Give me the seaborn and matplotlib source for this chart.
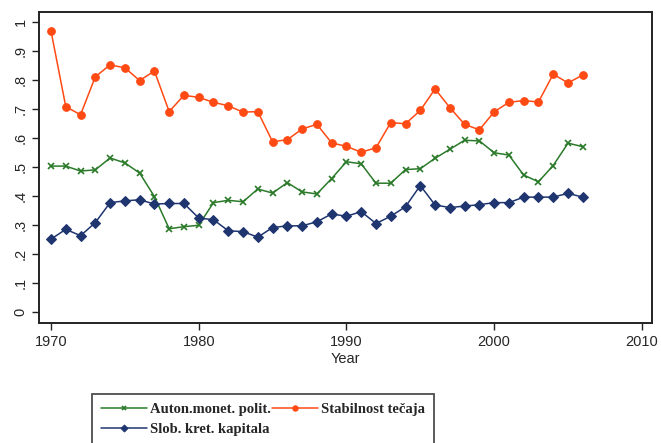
import numpy as np
import pandas as pd
import matplotlib
matplotlib.use("Agg")
import matplotlib.pyplot as plt
import seaborn as sns
from matplotlib.ticker import FuncFormatter

years = list(range(1970, 2007))

# Auton.monet. polit.
monetary = [0.504, 0.504, 0.487, 0.491, 0.532, 0.515, 0.480, 0.399, 0.288, 0.295,
            0.300, 0.378, 0.386, 0.381, 0.425, 0.411, 0.447, 0.415, 0.408, 0.461,
            0.519, 0.512, 0.445, 0.445, 0.492, 0.495, 0.531, 0.562, 0.593, 0.591,
            0.550, 0.542, 0.473, 0.450, 0.506, 0.583, 0.571]

# Stabilnost tečaja
exchange = [0.970, 0.709, 0.681, 0.812, 0.853, 0.843, 0.799, 0.832, 0.692, 0.748,
            0.741, 0.724, 0.712, 0.690, 0.692, 0.588, 0.595, 0.632, 0.648, 0.584,
            0.572, 0.552, 0.567, 0.654, 0.650, 0.696, 0.770, 0.706, 0.648, 0.629,
            0.691, 0.724, 0.730, 0.725, 0.821, 0.791, 0.818]

# Slob. kret. kapitala
capital = [0.252, 0.286, 0.264, 0.309, 0.378, 0.384, 0.388, 0.373, 0.375, 0.375,
           0.325, 0.319, 0.281, 0.278, 0.259, 0.292, 0.298, 0.298, 0.312, 0.339,
           0.331, 0.347, 0.306, 0.331, 0.364, 0.437, 0.370, 0.361, 0.366, 0.371,
           0.378, 0.378, 0.397, 0.397, 0.397, 0.410, 0.397]

df = pd.DataFrame({"Year": years, "monetary": monetary,
                   "exchange": exchange, "capital": capital})

sns.set_style("ticks")
plt.rcParams["font.family"] = ["Liberation Sans", "DejaVu Sans"]

fig = plt.figure(figsize=(6.61, 4.43), dpi=100)
ax = fig.add_axes([0.0595, 0.2716, 0.9265, 0.7004])

green = "#2a7a2a"
red = "#ff4a14"
navy = "#1f3570"

sns.lineplot(data=df, x="Year", y="monetary", ax=ax, color=green, lw=1.1,
             marker="x", markersize=5, markeredgewidth=1.2, markeredgecolor=green,
             label="Auton.monet. polit.")
sns.lineplot(data=df, x="Year", y="capital", ax=ax, color=navy, lw=1.1,
             marker="D", markersize=5, markeredgecolor=navy,
             label="Slob. kret. kapitala")
sns.lineplot(data=df, x="Year", y="exchange", ax=ax, color=red, lw=1.1,
             marker="o", markersize=5.5, markeredgecolor=red,
             label="Stabilnost tečaja")

ax.set_xlim(1969.21, 2010.67)
ax.set_ylim(-0.036, 1.034)
ax.set_xticks([1970, 1980, 1990, 2000, 2010])
ax.set_yticks(np.arange(0, 1.01, 0.1))
ax.yaxis.set_major_formatter(FuncFormatter(
    lambda v, p: "0" if abs(v) < 1e-9 else ("1" if abs(v - 1) < 1e-9 else ("%.1f" % v)[1:])))
for lab in ax.get_yticklabels():
    lab.set_rotation(90)
    lab.set_va("center")
ax.tick_params(axis="both", labelsize=10.5, length=5, width=1, color="#222222",
               direction="out")
ax.tick_params(axis="x", pad=4)
ax.set_xlabel("Year", fontsize=10.5, labelpad=2)
ax.set_ylabel("")
for sp in ax.spines.values():
    sp.set_visible(True)
    sp.set_linewidth(1.4)
    sp.set_color("#222222")

ax.legend_.remove()
h, l = ax.get_legend_handles_labels()
leg = fig.legend(h, l, ncol=2, loc="upper left", bbox_to_anchor=(0.139, 0.111),
                 frameon=True, fancybox=False, edgecolor="#222222",
                 prop={"family": "Liberation Serif", "weight": "bold", "size": 10.5},
                 handlelength=3.2, handletextpad=0.2, columnspacing=0.05,
                 labelspacing=0.5, borderpad=0.6, borderaxespad=0, markerscale=0.7)
leg.get_frame().set_linewidth(1.3)

fig.savefig("out.png", dpi=100)
